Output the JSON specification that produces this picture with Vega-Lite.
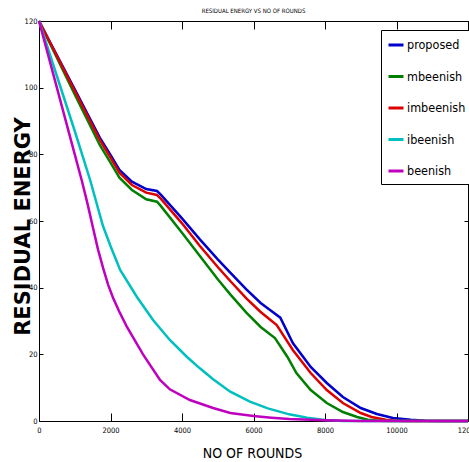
{
  "$schema": "https://vega.github.io/schema/vega-lite/v6.json",
  "width": 429,
  "height": 400,
  "autosize": "none",
  "padding": {"left": 39, "top": 21, "right": 1, "bottom": 41},
  "background": "white",
  "title": {
    "text": "RESIDUAL ENERGY VS NO OF ROUNDS",
    "fontSize": 6,
    "font": "DejaVu Sans Condensed, Liberation Sans, sans-serif",
    "fontWeight": "normal",
    "color": "black",
    "offset": 2,
    "frame": "group"
  },
  "config": {
    "view": {"stroke": "black", "strokeWidth": 1},
    "axis": {
      "labelFont": "DejaVu Sans Condensed, Liberation Sans, sans-serif",
      "labelFontSize": 7.5,
      "labelColor": "black",
      "tickColor": "black",
      "domainColor": "black",
      "labelFlush": false,
      "grid": false
    }
  },
  "data": {
    "values": [
      {"s": "proposed", "x": 0, "y": 120}, {"s": "proposed", "x": 1000, "y": 99.5}, {"s": "proposed", "x": 1700, "y": 85}, {"s": "proposed", "x": 2000, "y": 79.8}, {"s": "proposed", "x": 2250, "y": 75.3}, {"s": "proposed", "x": 2600, "y": 71.8}, {"s": "proposed", "x": 3000, "y": 69.6}, {"s": "proposed", "x": 3300, "y": 69}, {"s": "proposed", "x": 3400, "y": 68}, {"s": "proposed", "x": 4000, "y": 60.8}, {"s": "proposed", "x": 4500, "y": 54.5}, {"s": "proposed", "x": 5000, "y": 48.5}, {"s": "proposed", "x": 5350, "y": 44.5}, {"s": "proposed", "x": 5800, "y": 39.5}, {"s": "proposed", "x": 6200, "y": 35.4}, {"s": "proposed", "x": 6500, "y": 33}, {"s": "proposed", "x": 6750, "y": 31}, {"s": "proposed", "x": 7100, "y": 23.4}, {"s": "proposed", "x": 7600, "y": 16.2}, {"s": "proposed", "x": 8050, "y": 11.4}, {"s": "proposed", "x": 8500, "y": 7.2}, {"s": "proposed", "x": 9000, "y": 3.9}, {"s": "proposed", "x": 9450, "y": 2.1}, {"s": "proposed", "x": 9900, "y": 0.9}, {"s": "proposed", "x": 10400, "y": 0.4}, {"s": "proposed", "x": 10800, "y": 0.1}, {"s": "proposed", "x": 11200, "y": 0}, {"s": "proposed", "x": 12000, "y": 0},
      {"s": "mbeenish", "x": 0, "y": 120}, {"s": "mbeenish", "x": 1000, "y": 98}, {"s": "mbeenish", "x": 1700, "y": 82.8}, {"s": "mbeenish", "x": 2000, "y": 77.5}, {"s": "mbeenish", "x": 2250, "y": 73}, {"s": "mbeenish", "x": 2600, "y": 69.3}, {"s": "mbeenish", "x": 3000, "y": 66.5}, {"s": "mbeenish", "x": 3300, "y": 65.8}, {"s": "mbeenish", "x": 3400, "y": 64.6}, {"s": "mbeenish", "x": 4000, "y": 56.5}, {"s": "mbeenish", "x": 4500, "y": 49.5}, {"s": "mbeenish", "x": 5000, "y": 42.5}, {"s": "mbeenish", "x": 5350, "y": 38}, {"s": "mbeenish", "x": 5800, "y": 32.5}, {"s": "mbeenish", "x": 6200, "y": 28.2}, {"s": "mbeenish", "x": 6600, "y": 24.9}, {"s": "mbeenish", "x": 6950, "y": 19.2}, {"s": "mbeenish", "x": 7200, "y": 14.4}, {"s": "mbeenish", "x": 7600, "y": 9.3}, {"s": "mbeenish", "x": 8050, "y": 5.4}, {"s": "mbeenish", "x": 8500, "y": 2.7}, {"s": "mbeenish", "x": 8900, "y": 1.2}, {"s": "mbeenish", "x": 9200, "y": 0.4}, {"s": "mbeenish", "x": 9500, "y": 0.1}, {"s": "mbeenish", "x": 9800, "y": 0}, {"s": "mbeenish", "x": 12000, "y": 0},
      {"s": "imbeenish", "x": 0, "y": 120}, {"s": "imbeenish", "x": 1000, "y": 99}, {"s": "imbeenish", "x": 1700, "y": 84.3}, {"s": "imbeenish", "x": 2000, "y": 79}, {"s": "imbeenish", "x": 2250, "y": 74.5}, {"s": "imbeenish", "x": 2600, "y": 70.8}, {"s": "imbeenish", "x": 3000, "y": 68.5}, {"s": "imbeenish", "x": 3300, "y": 67.8}, {"s": "imbeenish", "x": 3400, "y": 66.8}, {"s": "imbeenish", "x": 4000, "y": 59.3}, {"s": "imbeenish", "x": 4500, "y": 52.5}, {"s": "imbeenish", "x": 5000, "y": 46.2}, {"s": "imbeenish", "x": 5350, "y": 42}, {"s": "imbeenish", "x": 5800, "y": 36.8}, {"s": "imbeenish", "x": 6200, "y": 32.7}, {"s": "imbeenish", "x": 6650, "y": 28.8}, {"s": "imbeenish", "x": 7100, "y": 21.3}, {"s": "imbeenish", "x": 7600, "y": 14.4}, {"s": "imbeenish", "x": 8050, "y": 9.3}, {"s": "imbeenish", "x": 8500, "y": 5.4}, {"s": "imbeenish", "x": 9000, "y": 2.4}, {"s": "imbeenish", "x": 9300, "y": 1.2}, {"s": "imbeenish", "x": 9700, "y": 0.4}, {"s": "imbeenish", "x": 10000, "y": 0.1}, {"s": "imbeenish", "x": 10300, "y": 0}, {"s": "imbeenish", "x": 12000, "y": 0},
      {"s": "ibeenish", "x": 0, "y": 120}, {"s": "ibeenish", "x": 500, "y": 103.5}, {"s": "ibeenish", "x": 1000, "y": 87}, {"s": "ibeenish", "x": 1430, "y": 72.3}, {"s": "ibeenish", "x": 1790, "y": 58.5}, {"s": "ibeenish", "x": 2000, "y": 52.5}, {"s": "ibeenish", "x": 2270, "y": 45.3}, {"s": "ibeenish", "x": 2740, "y": 37.2}, {"s": "ibeenish", "x": 3190, "y": 30.3}, {"s": "ibeenish", "x": 3660, "y": 24.3}, {"s": "ibeenish", "x": 4140, "y": 19.2}, {"s": "ibeenish", "x": 4500, "y": 15.8}, {"s": "ibeenish", "x": 4870, "y": 12.5}, {"s": "ibeenish", "x": 5350, "y": 8.8}, {"s": "ibeenish", "x": 5900, "y": 5.8}, {"s": "ibeenish", "x": 6400, "y": 3.8}, {"s": "ibeenish", "x": 7000, "y": 2}, {"s": "ibeenish", "x": 7500, "y": 1}, {"s": "ibeenish", "x": 8000, "y": 0.3}, {"s": "ibeenish", "x": 8500, "y": 0}, {"s": "ibeenish", "x": 12000, "y": 0},
      {"s": "beenish", "x": 0, "y": 120}, {"s": "beenish", "x": 500, "y": 100}, {"s": "beenish", "x": 1000, "y": 80}, {"s": "beenish", "x": 1200, "y": 72}, {"s": "beenish", "x": 1350, "y": 65.5}, {"s": "beenish", "x": 1510, "y": 58}, {"s": "beenish", "x": 1650, "y": 51.5}, {"s": "beenish", "x": 1790, "y": 46}, {"s": "beenish", "x": 1930, "y": 41}, {"s": "beenish", "x": 2070, "y": 37}, {"s": "beenish", "x": 2260, "y": 32.5}, {"s": "beenish", "x": 2460, "y": 28.2}, {"s": "beenish", "x": 2910, "y": 20}, {"s": "beenish", "x": 3385, "y": 12.3}, {"s": "beenish", "x": 3660, "y": 9.5}, {"s": "beenish", "x": 4220, "y": 6.3}, {"s": "beenish", "x": 4870, "y": 3.9}, {"s": "beenish", "x": 5350, "y": 2.4}, {"s": "beenish", "x": 6000, "y": 1.5}, {"s": "beenish", "x": 6500, "y": 1}, {"s": "beenish", "x": 7000, "y": 0.6}, {"s": "beenish", "x": 8000, "y": 0.2}, {"s": "beenish", "x": 9000, "y": 0}, {"s": "beenish", "x": 12000, "y": 0}
    ]
  },
  "layer": [
    {
      "mark": {"type": "line", "strokeWidth": 2.5},
      "encoding": {
        "x": {
          "field": "x", "type": "quantitative",
          "scale": {"domain": [0, 12000], "nice": false},
          "axis": {
            "orient": "bottom",
            "values": [0, 2000, 4000, 6000, 8000, 10000, 12000],
            "format": "d",
            "tickSize": -8,
            "labelPadding": 13,
            "domain": false,
            "title": "NO OF ROUNDS",
            "titleFont": "DejaVu Sans Condensed, Liberation Sans, sans-serif",
            "titleFontSize": 14,
            "titleFontWeight": "normal",
            "titleColor": "black",
            "titleBaseline": "alphabetic",
            "titleX": 213,
            "titleY": 36
          }
        },
        "y": {
          "field": "y", "type": "quantitative",
          "scale": {"domain": [0, 120], "nice": false},
          "axis": {
            "orient": "left",
            "values": [0, 20, 40, 60, 80, 100, 120],
            "tickSize": -4,
            "labelPadding": 6,
            "domain": false,
            "title": "RESIDUAL ENERGY",
            "titleFont": "DejaVu Sans",
            "titleFontSize": 21,
            "titleFontWeight": "bold",
            "titleColor": "black",
            "titleBaseline": "alphabetic",
            "titleX": -10,
            "titleY": 205
          }
        },
        "color": {
          "field": "s", "type": "nominal",
          "scale": {
            "domain": ["proposed", "mbeenish", "imbeenish", "ibeenish", "beenish"],
            "range": ["#0000cc", "#007f00", "#dd0000", "#00bfbf", "#bf00bf"]
          },
          "legend": {
            "orient": "none",
            "legendX": 342,
            "legendY": 9,
            "title": null,
            "strokeColor": "black",
            "fillColor": "white",
            "padding": 6,
            "symbolType": "stroke",
            "symbolStrokeWidth": 3,
            "symbolSize": 225,
            "labelFont": "DejaVu Sans Condensed, Liberation Sans, sans-serif",
            "labelFontSize": 12.5,
            "labelColor": "black",
            "labelOffset": 2,
            "labelLimit": 200,
            "rowPadding": 15.5
          }
        }
      }
    },
    {
      "mark": {"type": "line", "opacity": 0},
      "encoding": {
        "x": {
          "field": "x", "type": "quantitative",
          "axis": {"orient": "top", "values": [0, 2000, 4000, 6000, 8000, 10000, 12000], "labels": false, "tickSize": -8, "domain": false, "title": null}
        },
        "y": {
          "field": "y", "type": "quantitative",
          "axis": {"orient": "right", "values": [0, 20, 40, 60, 80, 100, 120], "labels": false, "tickSize": -4, "domain": false, "title": null}
        }
      }
    }
  ],
  "resolve": {"axis": {"x": "independent", "y": "independent"}}
}
